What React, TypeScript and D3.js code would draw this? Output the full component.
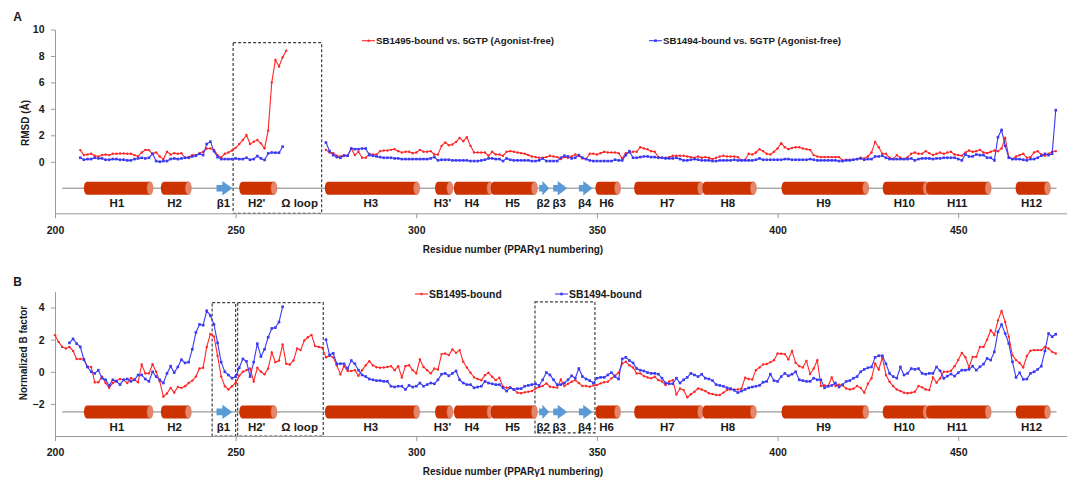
import React, { useEffect, useRef } from "react";
import * as d3 from "d3";

const WIDTH = 1072;
const HEIGHT = 477;
const FONT = "'Liberation Sans', Arial, Helvetica, sans-serif";

const RED = "#ff2626";
const BLUE = "#3a3af2";
const HELIX = "#cc3300";
const CAP = "#e5866a";
const STRAND = "#5b9bd5";
const AXIS = "#9a9a9a";
const INK = "#1a1a1a";

// x axis (residue number)
const xTicks = [200, 250, 300, 350, 400, 450];
// y ticks
const rmsdTicks = [0, 2, 4, 6, 8, 10];
const bTicks = [-2, 0, 2, 4];

// Panel A: RMSD, SB1495-bound vs 5GTP (red), two segments (Omega loop missing)
const rmsdRedStart1 = 207;
const rmsdRed1 = [
  0.88, 0.5, 0.55, 0.6, 0.45, 0.4, 0.5, 0.55, 0.5, 0.6,
  0.6, 0.62, 0.62, 0.6, 0.6, 0.5, 0.4, 0.7, 0.9, 0.88,
  0.6, 0.7, 0.4, 0.2, 0.75, 0.55, 0.65, 0.6, 0.65, 0.3,
  0.35, 0.5, 0.5, 0.63, 0.76, 1.0, 1.0, 0.9, 0.5, 0.33,
  0.6, 0.7, 0.85, 1.05, 1.34, 1.64, 2.02, 1.34, 1.52, 1.64,
  1.39, 1.01, 2.35, 6.0, 7.7, 7.2, 7.9, 8.4,
];
const rmsdRedStart2 = 275;
const rmsdRed2 = [
  0.9, 0.7, 0.65, 0.45, 0.4, 0.5, 0.45, 1.0, 0.5, 0.75,
  0.3, 0.3, 0.6, 0.55, 0.55, 0.8, 0.85, 0.85, 0.9, 0.95,
  0.8, 0.7, 0.75, 0.75, 0.65, 0.7, 0.9, 0.75, 0.75, 0.8,
  0.55, 0.55, 1.2, 1.45, 1.25, 1.3, 1.5, 1.8, 1.55, 1.85,
  1.2, 0.7, 0.7, 0.7, 0.7, 0.45, 0.75, 0.55, 0.55, 0.45,
  0.75, 0.8, 0.75, 0.7, 0.65, 0.6, 0.5, 0.4, 0.35, 0.3,
  0.3, 0.35, 0.45, 0.4, 0.35, 0.2, 0.35, 0.3, 0.4, 0.55,
  0.45, 0.25, 0.2, 0.6, 0.6, 0.55, 0.65, 0.75, 0.7, 0.7,
  0.7, 0.65, 0.25, 0.65, 0.7, 0.75, 0.75, 1.1, 1.0, 0.95,
  0.8, 0.75, 0.35, 0.3, 0.3, 0.35, 0.45, 0.45, 0.45, 0.45,
  0.4, 0.35, 0.3, 0.4, 0.3, 0.35, 0.3, 0.2, 0.3, 0.4,
  0.45, 0.4, 0.4, 0.4, 0.35, 0.1, 0.15, 0.6, 0.55, 0.7,
  0.95, 0.8, 0.6, 0.55, 0.75, 1.0, 1.4, 1.1, 0.95, 1.05,
  1.1, 1.1, 1.0, 0.95, 0.9, 0.5, 0.4, 0.35, 0.35, 0.35,
  0.35, 0.35, 0.35, 0.1, 0.15, 0.15, 0.15, 0.2, 0.3, 0.25,
  0.4, 0.7, 1.5, 1.1, 0.6, 0.6, 0.3, 0.2, 0.5, 0.3,
  0.2, 0.35, 0.6, 0.7, 0.6, 0.6, 0.8, 0.65, 0.5, 0.6,
  0.7, 0.6, 0.7, 0.75, 0.55, 0.5, 0.45, 0.7, 0.85, 0.75,
  0.8, 0.9, 0.7, 0.65, 0.75, 0.85, 0.8, 1.0, 1.8, 0.35,
  0.2, 0.4, 0.5, 0.6, 0.3, 0.35, 0.7, 0.8, 0.55, 0.45,
  0.6, 0.75, 0.8,
];

// Panel A: RMSD, SB1494-bound vs 5GTP (blue)
const rmsdBlueStart1 = 207;
const rmsdBlue1 = [
  0.3, 0.15, 0.2, 0.2, 0.3, 0.25, 0.25, 0.15, 0.15, 0.2,
  0.2, 0.15, 0.15, 0.1, 0.1, 0.2, 0.25, 0.3, 0.25, 0.3,
  0.6, 0.05, 0.0, 0.05, 0.05, 0.2, 0.25, 0.2, 0.25, 0.3,
  0.3, 0.4, 0.45, 0.6, 0.5, 1.34, 1.52, 0.8, 0.35, 0.2,
  0.2, 0.2, 0.2, 0.25, 0.2, 0.2, 0.3, 0.15, 0.2, 0.43,
  0.25, 0.13, 0.63, 0.7, 0.68, 0.68, 1.14,
];
const rmsdBlueStart2 = 275;
const rmsdBlue2 = [
  1.45, 0.8, 0.5, 0.35, 0.3, 0.45, 0.45, 1.0, 0.95, 0.95,
  1.0, 1.0, 0.5, 0.45, 0.4, 0.35, 0.3, 0.3, 0.3, 0.25,
  0.25, 0.2, 0.2, 0.2, 0.2, 0.2, 0.2, 0.2, 0.2, 0.25,
  0.35, 0.1, 0.15, 0.15, 0.15, 0.1, 0.1, 0.1, 0.1, 0.1,
  0.05, 0.05, 0.05, 0.1, 0.15, 0.25, 0.25, 0.2, 0.2, 0.05,
  0.25, 0.15, 0.1, 0.1, 0.1, 0.1, 0.1, 0.05, 0.05, 0.1,
  0.25, 0.05, 0.05, 0.05, 0.05, 0.3, 0.45, 0.4, 0.25, 0.3,
  0.5, 0.3, 0.2, 0.1, 0.05, 0.05, 0.05, 0.05, 0.05, 0.05,
  0.15, 0.1, 0.1, 0.5, 0.8, 0.3, 0.3, 0.35, 0.4, 0.4,
  0.35, 0.35, 0.3, 0.3, 0.25, 0.25, 0.25, 0.3, 0.2, 0.1,
  0.1, 0.15, 0.2, 0.15, 0.1, 0.1, 0.1, 0.05, 0.05, 0.1,
  0.1, 0.1, 0.1, 0.15, 0.1, 0.1, 0.1, 0.1, 0.1, 0.15,
  0.25, 0.15, 0.15, 0.15, 0.15, 0.15, 0.15, 0.2, 0.2, 0.15,
  0.15, 0.15, 0.15, 0.15, 0.2, 0.15, 0.1, 0.1, 0.1, 0.1,
  0.1, 0.1, 0.05, 0.05, 0.1, 0.1, 0.15, 0.2, 0.25, 0.15,
  0.2, 0.2, 0.4, 0.4, 0.45, 0.3, 0.2, 0.2, 0.2, 0.2,
  0.2, 0.2, 0.25, 0.1, 0.2, 0.25, 0.25, 0.25, 0.2, 0.25,
  0.25, 0.3, 0.3, 0.3, 0.3, 0.2, 0.1, 0.55, 0.4, 0.4,
  0.55, 0.5, 0.5, 0.3, 0.3, 0.1, 1.85, 2.4, 1.2, 0.3,
  0.2, 0.2, 0.2, 0.15, 0.1, 0.2, 0.2, 0.3, 0.45, 0.6,
  0.5, 0.6, 3.9,
];

// Panel B: normalized B factor, SB1495-bound (red)
const bRedStart = 200;
const bRed = [
  2.28, 1.86, 1.55, 1.45, 1.55, 1.3, 0.8, 0.8, 0.8, 0.3,
  0.3, -0.65, -0.65, -0.3, -0.7, -1.0, -0.7, -0.55, -0.45, -0.5,
  -0.7, -0.4, -0.5, -0.65, 0.45, -0.1, -0.1, 0.47, 0.0, -0.6,
  -1.55, -1.35, -1.0, -1.3, -0.95, -1.0, -0.9, -0.7, -0.55, -0.3,
  0.2, 0.25, 1.55, 2.35, 2.2, 1.0, -0.3, -0.9, -1.1, -0.9,
  -0.7, -0.25, 0.0, 0.1, 0.2, -0.6, 0.25, 0.0, -0.15, 0.2,
  1.2, 0.6, 0.7, 1.7, 0.5, 0.45, 0.7, 1.45, 1.35, 1.95,
  2.15, 2.3, 1.6, 1.55, 1.5, 0.9, 1.0, 0.9, 0.4, -0.15,
  0.35, 0.05, 0.05, 0.1, -0.25, 0.1, 0.4, 0.66, 0.4, 0.28,
  0.25, 0.27, 0.3, 0.35, 0.1, 0.35, -0.35, 0.35, 0.41, 0.1,
  -0.1, 0.77, 0.3, 0.1, -0.1, 0.2, 0.14, 1.1, 1.14, 1.04,
  1.39, 1.18, 1.35, 0.62, 0.27, -0.06, -0.35, -0.45, -0.52, -0.21,
  -0.06, -0.31, -0.52, -0.37, -0.93, -0.99, -0.97, -1.1, -1.3, -1.34,
  -1.28, -1.24, -1.2, -1.04, -0.95, -0.89, -0.72, -0.93, -0.96, -0.99,
  -0.48, -0.89, -0.75, -0.62, -0.52, -0.7, -0.89, -0.89, -0.93, -0.85,
  -0.83, -0.72, -0.65, -0.62, -0.41, -0.25, -0.06, 0.52, 0.62, 0.4,
  0.27, -0.1, -0.1, -0.27, -0.35, -0.41, -0.31, -0.52, -0.6, -0.83,
  -0.6, -0.52, -1.41, -1.04, -1.14, -1.59, -1.4, -1.24, -1.04, -1.1,
  -1.2, -1.34, -1.39, -1.45, -1.45, -1.3, -1.14, -1.1, -1.1, -1.1,
  -1.05, -0.37, -0.45, -0.48, 0.1, 0.27, 0.46, 0.48, 0.6, 0.72,
  1.14, 1.12, 1.1, 0.77, 1.3, 0.56, 0.35, 0.27, 0.68, -0.14,
  0.2, 0.72, -0.89, -0.85, -0.89, -0.35, -0.89, -0.8, -0.85, -1.04,
  -1.1, -1.05, -0.89, -1.0, -1.3, -0.75, -0.41, 0.52, 0.14, 0.89,
  -0.2, -0.62, -0.89, -1.1, -1.2, -1.3, -1.34, -1.3, -1.24, -0.89,
  -0.97, -1.1, -1.14, -0.35, -0.68, -0.41, 0.0, 0.0, 0.06, 0.35,
  0.73, 1.18, 0.9, 0.27, 0.93, 0.93, 1.55, 1.55, 2.0, 2.59,
  2.28, 3.2, 3.79, 3.1, 2.18, 1.04, 0.73, 0.55, 0.27, 0.98,
  1.31, 1.35, 1.35, 1.35, 1.55, 1.45, 1.24, 1.14,
];

// Panel B: normalized B factor, SB1494-bound (blue), two segments
const bBlueStart1 = 204;
const bBlue1 = [
  1.8, 2.05, 1.75, 1.55, 0.75, 0.3, 0.0, -0.1, 0.1, -0.4,
  -0.5, -0.85, -0.5, -0.6, -0.8, -0.5, -0.45, -0.6, -0.5, -0.2,
  -0.2, -0.45, -0.6, 0.0, -0.3, -0.5, -0.7, -0.1, 0.35, -0.05,
  0.3, 0.75, 0.55, 0.6, 1.4, 2.45, 2.95, 2.9, 3.8, 3.5,
  2.95, 1.8, 0.6, 0.0, -0.2, -0.4, -0.3, 0.25, 0.8, 0.65,
  -0.3, 0.6, 1.75, 0.95, 1.4, 2.15, 2.7, 2.75, 3.1, 4.05,
];
const bBlueStart2 = 275;
const bBlue2 = [
  2.0, 1.05, 1.15, 0.5, 0.5, 0.5, 0.2, 0.7, 0.5, 0.1,
  -0.2, -0.3, -0.45, -0.5, -0.55, -0.55, -0.6, -0.6, -0.9, -0.95,
  -0.9, -0.9, -1.1, -0.85, -0.95, -0.9, -0.7, -0.9, -0.8, -0.7,
  -0.75, -0.5, -0.15, -0.1, -0.25, -0.1, 0.05, -0.5, -0.7, -0.8,
  -0.8, -1.0, -0.95, -0.9, -0.6, -0.7, -0.75, -0.8, -0.8, -1.0,
  -1.2, -1.0, -1.1, -1.05, -1.05, -0.9, -0.85, -0.8, -0.75, -0.85,
  -0.5, -0.05, -0.2, -0.5, -0.8, -0.8, -0.7, -0.5, -0.25, -0.4,
  0.2, -0.3, -0.45, -0.55, -0.7, -0.4, -0.35, -0.35, -0.2, -0.05,
  -0.3, -0.45, 0.8, 0.9, 0.7, 0.55, 0.2, 0.1, 0.05, -0.05,
  -0.1, -0.1, -0.15, -0.4, -0.7, -0.75, -0.75, -0.4, -0.7, -0.5,
  -0.35, -0.1, -0.2, -0.3, -0.15, -0.4, -0.45, -0.55, -0.8, -0.85,
  -0.9, -1.0, -1.05, -1.15, -1.3, -1.2, -1.1, -1.0, -0.95, -0.9,
  -0.85, -0.65, -0.6, -0.15, -0.55, -0.6, -0.3, -0.1, -0.25, -0.15,
  0.0, -0.5, -0.55, -0.6, -0.6, -0.4, -0.5, -0.5, -1.0, -0.9,
  -0.85, -0.7, -0.95, -0.8, -0.6, -0.55, -0.4, -0.3, 0.0, 0.15,
  0.25, 0.3, 0.9, 1.0, 1.0, 0.5, -0.1, -0.3, -0.4, 0.3,
  -0.2, -0.1, 0.2, 0.15, 0.2, -0.1, -0.15, -0.1, -0.1, 0.3,
  0.06, -0.41, -0.27, -0.14, -0.27, -0.06, 0.1, 0.1, 0.15, 0.35,
  0.1, 0.31, 0.48, 0.83, 0.73, 1.24, 2.49, 2.94, 2.38, 1.76,
  0.62, -0.35, -0.06, -0.47, -0.45, -0.1, 0.0, 0.15, 0.35, 1.3,
  2.38, 2.18, 2.34,
];

// Secondary structure of the PPARγ ligand-binding domain
const trackStart = 202;
const trackEnd = 477.2;
const helixNames = ["H1", "H2", "H2'", "H3", "H3'", "H4", "H5", "H6", "H7", "H8", "H9", "H10", "H11", "H12"];
const helixStart = [208, 229.3, 251, 274.7, 305.2, 310.4, 320.6, 349.6, 360.3, 379.2, 401.1, 429.1, 441.1, 465.9];
const helixEnd = [226.3, 236.9, 260.6, 300.1, 309.3, 320.4, 332.7, 355.7, 378.7, 393.3, 424.4, 441.1, 458.3, 474.7];
const strandNames = ["β1", "β2", "β3", "β4"];
const strandStart = [244.7, 334, 337.9, 345];
const strandEnd = [249.1, 336.8, 341.8, 348.8];
const loopName = "Ω loop";
const loopCenter = 267.7;

type Pt = { res: number; v: number };
const series = (start: number, values: number[]): Pt[] =>
  values.map((v, i) => ({ res: start + i, v }));

type Box = { x0: number; x1: number; top: number; bottom: number };

function drawTrack(g: any, x: any, cy: number, labelY: number) {
  g.append("line")
    .attr("x1", x(trackStart))
    .attr("x2", x(trackEnd))
    .attr("y1", cy)
    .attr("y2", cy)
    .attr("stroke", "#808080")
    .attr("stroke-width", 1);

  const hh = 6.5,
    rx = 3;
  helixNames.forEach((name, i) => {
    const x0 = x(helixStart[i]),
      x1 = x(helixEnd[i]);
    g.append("path")
      .attr(
        "d",
        `M${x0 + rx},${cy - hh}L${x1},${cy - hh}L${x1},${cy + hh}L${x0 + rx},${cy + hh}A${rx},${hh} 0 0 1 ${x0 + rx},${cy - hh}Z`
      )
      .attr("fill", HELIX);
    g.append("ellipse")
      .attr("cx", x1)
      .attr("cy", cy)
      .attr("rx", rx)
      .attr("ry", hh)
      .attr("fill", CAP)
      .attr("stroke", "#d2694a")
      .attr("stroke-width", 0.5);
    g.append("text")
      .attr("x", (x0 + x1) / 2)
      .attr("y", labelY)
      .attr("text-anchor", "middle")
      .attr("font-size", 11.5)
      .attr("font-weight", "bold")
      .attr("fill", INK)
      .text(name);
  });

  strandNames.forEach((name, i) => {
    const x0 = x(strandStart[i]),
      x1 = x(strandEnd[i]);
    const head = Math.min(10, (x1 - x0) * 0.68);
    const bh = 3.3,
      ah = 7.2;
    g.append("path")
      .attr(
        "d",
        `M${x0},${cy - bh}L${x1 - head},${cy - bh}L${x1 - head},${cy - ah}L${x1},${cy}L${x1 - head},${cy + ah}L${x1 - head},${cy + bh}L${x0},${cy + bh}Z`
      )
      .attr("fill", STRAND);
    g.append("text")
      .attr("x", (x0 + x1) / 2 - 1)
      .attr("y", labelY)
      .attr("text-anchor", "middle")
      .attr("font-size", 11.5)
      .attr("font-weight", "bold")
      .attr("fill", INK)
      .text(name);
  });

  g.append("text")
    .attr("x", x(loopCenter))
    .attr("y", labelY)
    .attr("text-anchor", "middle")
    .attr("font-size", 11.5)
    .attr("font-weight", "bold")
    .attr("fill", INK)
    .text(loopName);
}

function drawPanel(svg: any, cfg: any) {
  const { x, y, yTicks, red, blue, boxes, trackValue, labelDy, legend, legendSize, tickPad } = cfg;
  const g = svg.append("g");

  // dashed boxes
  boxes.forEach((b: Box) => {
    g.append("rect")
      .attr("x", x(b.x0))
      .attr("y", y(b.top))
      .attr("width", x(b.x1) - x(b.x0))
      .attr("height", y(b.bottom) - y(b.top))
      .attr("fill", "none")
      .attr("stroke", "#404040")
      .attr("stroke-width", 1.2)
      .attr("stroke-dasharray", "3,2");
  });

  // axes
  const xAxis = g
    .append("g")
    .attr("transform", `translate(0,${y.range()[0]})`)
    .call(d3.axisBottom(x).tickValues(xTicks).tickSize(5).tickSizeOuter(0).tickPadding(tickPad));
  const yAxis = g
    .append("g")
    .attr("transform", `translate(${x.range()[0]},0)`)
    .call(d3.axisLeft(y).tickValues(yTicks).tickSize(4).tickSizeOuter(0).tickPadding(6.5));
  [xAxis, yAxis].forEach((ax) => {
    ax.select(".domain").attr("stroke", AXIS);
    ax.selectAll(".tick line").attr("stroke", AXIS);
    ax.selectAll(".tick text")
      .attr("font-size", 10.5)
      .attr("font-weight", "bold")
      .attr("font-family", FONT)
      .attr("fill", INK);
  });

  drawTrack(g, x, y(trackValue), y(trackValue) + labelDy);

  // series
  const line = d3
    .line<Pt>()
    .x((d) => x(d.res))
    .y((d) => y(d.v));

  const drawSeries = (segs: Pt[][], color: string, square: boolean) => {
    segs.forEach((seg) => {
      g.append("path")
        .attr("d", line(seg))
        .attr("fill", "none")
        .attr("stroke", color)
        .attr("stroke-width", 1.1);
      seg.forEach((d) => {
        if (square) {
          g.append("rect")
            .attr("x", x(d.res) - 1.3)
            .attr("y", y(d.v) - 1.3)
            .attr("width", 2.6)
            .attr("height", 2.6)
            .attr("fill", color);
        } else {
          g.append("circle").attr("cx", x(d.res)).attr("cy", y(d.v)).attr("r", 1.2).attr("fill", color);
        }
      });
    });
  };
  drawSeries(red, RED, false);
  drawSeries(blue, BLUE, true);

  // legend
  legend.forEach((it: any) => {
    g.append("line")
      .attr("x1", it.x)
      .attr("x2", it.x + 13)
      .attr("y1", it.y)
      .attr("y2", it.y)
      .attr("stroke", it.color)
      .attr("stroke-width", 1.1);
    if (it.square) {
      g.append("rect").attr("x", it.x + 5.2).attr("y", it.y - 1.3).attr("width", 2.6).attr("height", 2.6).attr("fill", it.color);
    } else {
      g.append("circle").attr("cx", it.x + 6.5).attr("cy", it.y).attr("r", 1.2).attr("fill", it.color);
    }
    g.append("text")
      .attr("x", it.x + 14)
      .attr("y", it.y + legendSize * 0.36)
      .attr("font-size", legendSize)
      .attr("font-weight", "bold")
      .attr("fill", INK)
      .text(it.text);
  });
}

function textAt(svg: any, x: number, y: number, s: string, size: number, rotate = false) {
  const t = svg
    .append("text")
    .attr("font-size", size)
    .attr("font-weight", "bold")
    .attr("fill", INK)
    .text(s);
  if (rotate) {
    t.attr("text-anchor", "middle").attr("transform", `translate(${x},${y}) rotate(-90)`);
  } else {
    t.attr("x", x).attr("y", y).attr("text-anchor", "middle");
  }
}

export default function App() {
  const ref = useRef<SVGSVGElement | null>(null);

  useEffect(() => {
    const svg = d3.select(ref.current);
    svg.selectAll("*").remove();
    svg.attr("font-family", FONT);

    const x = d3.scaleLinear().domain([200, 480]).range([55, 1066.6]);

    // Panel A
    const yA = d3.scaleLinear().domain([-3.9, 10]).range([213.3, 29.5]);
    drawPanel(svg, {
      x,
      y: yA,
      yTicks: rmsdTicks,
      red: [series(rmsdRedStart1, rmsdRed1), series(rmsdRedStart2, rmsdRed2)],
      blue: [series(rmsdBlueStart1, rmsdBlue1), series(rmsdBlueStart2, rmsdBlue2)],
      boxes: [{ x0: 249.3, x1: 273.8, top: 9.0, bottom: -3.9 }],
      trackValue: -2,
      labelDy: 19.3,
      tickPad: 8.5,
      legendSize: 9.7,
      legend: [
        { x: 362, y: 40.7, color: RED, square: false, text: "SB1495-bound vs. 5GTP (Agonist-free)" },
        { x: 649, y: 40.7, color: BLUE, square: true, text: "SB1494-bound vs. 5GTP (Agonist-free)" },
      ],
    });

    // Panel B
    const yB = d3.scaleLinear().domain([-4, 5]).range([436, 291.5]);
    drawPanel(svg, {
      x,
      y: yB,
      yTicks: bTicks,
      red: [series(bRedStart, bRed)],
      blue: [series(bBlueStart1, bBlue1), series(bBlueStart2, bBlue2)],
      boxes: [
        { x0: 243.5, x1: 250.0, top: 4.31, bottom: -4 },
        { x0: 250.55, x1: 274.25, top: 4.31, bottom: -4 },
        { x0: 332.85, x1: 349.45, top: 4.35, bottom: -3.8 },
      ],
      trackValue: -2.5,
      labelDy: 19.2,
      tickPad: 8,
      legendSize: 10.4,
      legend: [
        { x: 415, y: 294, color: RED, square: false, text: "SB1495-bound" },
        { x: 555, y: 294, color: BLUE, square: true, text: "SB1494-bound" },
      ],
    });

    // titles
    textAt(svg, 17.5, 21, "A", 12);
    textAt(svg, 17.5, 286, "B", 12);
    textAt(svg, 28.5, 123, "RMSD (Å)", 10, true);
    textAt(svg, 27, 353, "Normalized  B factor", 10, true);
    textAt(svg, 513, 253, "Residue number (PPARγ1 numbering)", 10);
    textAt(svg, 513, 474.5, "Residue number (PPARγ1 numbering)", 10);
  }, []);

  return (
    <svg
      ref={ref}
      width={WIDTH}
      height={HEIGHT}
      style={{ position: "absolute", left: 0, top: 0, background: "#fff" }}
    />
  );
}
